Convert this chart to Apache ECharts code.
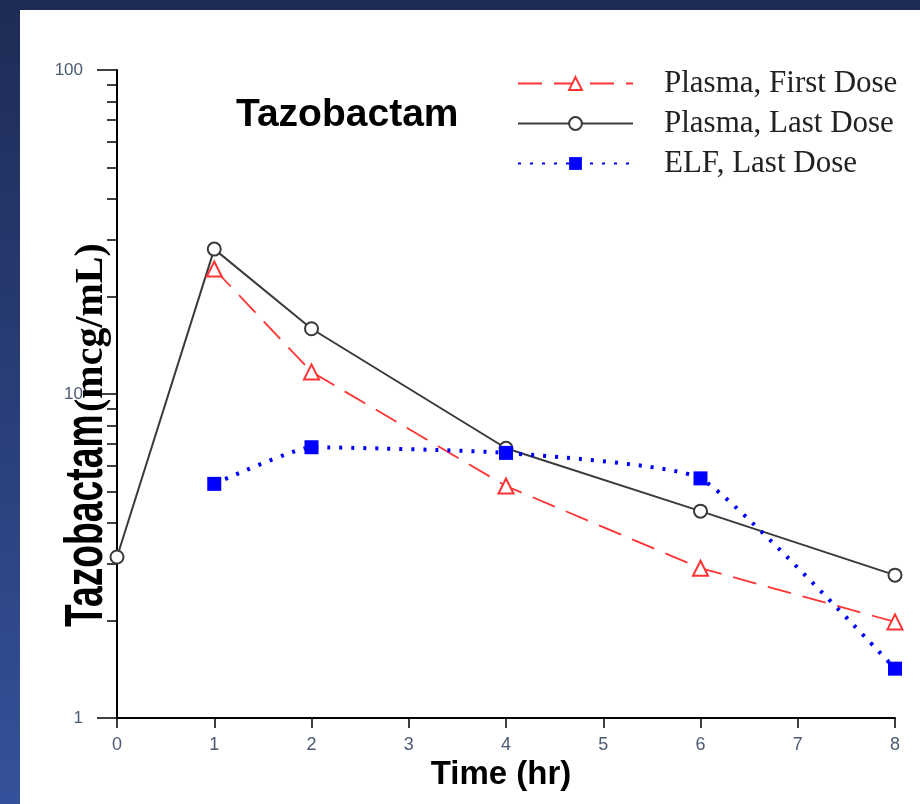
<!DOCTYPE html>
<html>
<head>
<meta charset="utf-8">
<script src="https://cdn.jsdelivr.net/npm/echarts@6/dist/echarts.min.js"></script>
<style>
html, body { margin: 0; padding: 0; background: #fff; }
#chart { width: 920px; height: 804px; }
</style>
</head>
<body>
<div id="chart"></div>
<script>
// data (mcg/mL, log scale)
var firstDoseHours = [1, 2, 4, 6, 8];
var firstDosePlasma = [24.3, 11.7, 5.2, 2.9, 1.98];
var lastDoseHours = [0, 1, 2, 4, 6, 8];
var lastDosePlasma = [3.14, 28.0, 15.9, 6.8, 4.35, 2.76];
var elfHours = [1, 2, 4, 6, 8];
var elfLastDose = [5.28, 6.85, 6.58, 5.49, 1.42];

var xTicks = [0, 1, 2, 3, 4, 5, 6, 7, 8];
var yMajorTicks = [1, 10, 100];
var yMinorTicks = [2, 3, 4, 5, 6, 7, 8, 9, 20, 30, 40, 50, 60, 70, 80, 90];

var labelColor = '#4b5a74';

function pairs(xs, ys) {
	var out = [];
	for (var i = 0; i < xs.length; i++) {
		out.push([xs[i], ys[i]]);
	}
	return out;
}

var myChart = echarts.init(document.getElementById('chart'));

var option = {
	animation: false,
	title: {
		text: 'Tazobactam',
		left: 236,
		top: 96,
		padding: 0,
		textStyle: {
			fontFamily: 'Liberation Sans',
			fontSize: 39,
			fontWeight: 'bold',
			color: '#000'
		}
	},
	legend: {
		orient: 'vertical',
		left: 512,
		top: 63,
		itemWidth: 115,
		itemHeight: 16,
		itemGap: 9,
		textStyle: {
			fontFamily: 'Liberation Serif',
			fontSize: 31,
			lineHeight: 31,
			color: '#222',
			padding: [0, 0, 0, 26]
		},
		data: ['Plasma, First Dose', 'Plasma, Last Dose', 'ELF, Last Dose']
	},
	grid: {
		left: 117,
		right: 25,
		top: 70,
		bottom: 86,
		containLabel: false
	},
	xAxis: {
		type: 'value',
		min: 0,
		max: 8,
		interval: 1,
		name: 'Time (hr)',
		nameLocation: 'middle',
		nameGap: 24,
		nameTextStyle: {
			fontFamily: 'Liberation Sans',
			fontSize: 33,
			fontWeight: 'bold',
			color: '#000',
			padding: [0, 10, 0, 0]
		},
		axisLine: { lineStyle: { color: '#000', width: 2 } },
		axisTick: { length: 10, lineStyle: { color: '#000', width: 1.5 } },
		axisLabel: {
			margin: 18,
			fontFamily: 'Liberation Sans',
			fontSize: 18,
			color: labelColor
		},
		splitLine: { show: false }
	},
	yAxis: [{
		type: 'log',
		logBase: 10,
		min: 1,
		max: 100,
		axisLine: { onZero: false, lineStyle: { color: '#000', width: 2 } },
		axisTick: {
			length: 10,
			customValues: yMinorTicks,
			lineStyle: { color: '#000', width: 1.5 }
		},
		axisLabel: {
			margin: 34,
			customValues: yMajorTicks,
			fontFamily: 'Liberation Sans',
			fontSize: 17,
			color: labelColor
		},
		splitLine: { show: false }
	}, {
		type: 'log',
		logBase: 10,
		min: 1,
		max: 100,
		position: 'left',
		axisLine: { show: false },
		axisTick: {
			length: 20,
			customValues: yMajorTicks,
			lineStyle: { color: '#000', width: 1.5 }
		},
		axisLabel: { show: false },
		splitLine: { show: false }
	}],
	graphic: [{
		type: 'rect',
		z: -20,
		shape: { x: 0, y: 0, width: 920, height: 804 },
		style: {
			fill: {
				type: 'linear', x: 0, y: 0, x2: 0, y2: 1,
				colorStops: [{ offset: 0, color: '#1e2b55' }, { offset: 1, color: '#34519b' }]
			}
		}
	}, {
		type: 'rect',
		z: -19,
		shape: { x: 20, y: 10, width: 900, height: 794 },
		style: { fill: '#fff' }
	}, {
		type: 'text',
		z: 100,
		x: 87,
		y: 627,
		rotation: Math.PI / 2,
		scaleX: 0.69,
		style: {
			text: 'Tazobactam',
			fontFamily: 'Liberation Sans',
			fontWeight: 'bold',
			fontSize: 54,
			fill: '#000',
			textAlign: 'left',
			textVerticalAlign: 'middle'
		}
	}, {
		type: 'text',
		z: 100,
		x: 92,
		y: 412,
		rotation: Math.PI / 2,
		style: {
			text: '(mcg/mL)',
			fontFamily: 'Liberation Serif',
			fontWeight: 'bold',
			fontSize: 40,
			fill: '#000',
			textAlign: 'left',
			textVerticalAlign: 'middle'
		}
	}],
	series: [{
		name: 'Plasma, First Dose',
		type: 'line',
		data: pairs(firstDoseHours, firstDosePlasma),
		symbol: 'emptyTriangle',
		symbolSize: 15,
		itemStyle: { color: '#ff3333', borderWidth: 1.5 },
		lineStyle: { color: '#ff3333', width: 1.8, type: [24, 12] },
		z: 3
	}, {
		name: 'Plasma, Last Dose',
		type: 'line',
		data: pairs(lastDoseHours, lastDosePlasma),
		symbol: 'emptyCircle',
		symbolSize: 13,
		itemStyle: { color: '#3a3a3a', borderWidth: 1.5 },
		lineStyle: { color: '#3a3a3a', width: 2 },
		z: 2
	}, {
		name: 'ELF, Last Dose',
		type: 'line',
		data: pairs(elfHours, elfLastDose),
		smooth: 0.15,
		symbol: 'rect',
		symbolSize: 14,
		itemStyle: { color: '#0000ff' },
		lineStyle: { color: '#0000ff', width: 4, type: [3, 9] },
		z: 4
	}]
};
myChart.setOption(option);
</script>
</body>
</html>
